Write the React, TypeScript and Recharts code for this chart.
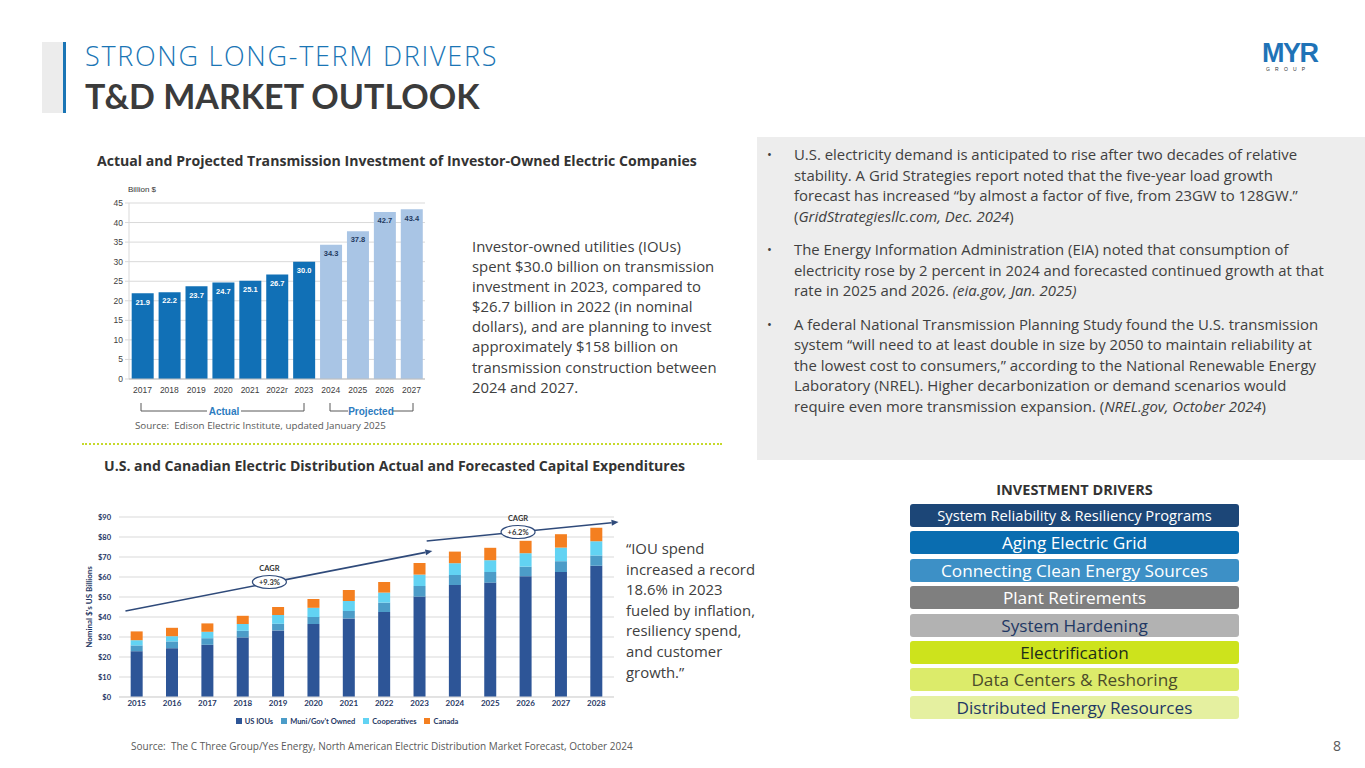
import React from 'react';
import {
  BarChart, Bar, XAxis, YAxis, CartesianGrid, LabelList, Legend,
  ReferenceLine, ReferenceDot,
} from 'recharts';

// ---------- Transmission investment (top chart) ----------
const tYears = ['2017', '2018', '2019', '2020', '2021', '2022r', '2023', '2024', '2025', '2026', '2027'];
const tActual = [21.9, 22.2, 23.7, 24.7, 25.1, 26.7, 30.0, null, null, null, null];
const tProjected = [null, null, null, null, null, null, null, 34.3, 37.8, 42.7, 43.4];
const tTicks = [0, 5, 10, 15, 20, 25, 30, 35, 40, 45];

// ---------- Distribution capex (bottom chart) ----------
const dYears = ['2015', '2016', '2017', '2018', '2019', '2020', '2021', '2022', '2023', '2024', '2025', '2026', '2027', '2028'];
const dUsIOUs = [22.9, 24.4, 26.1, 29.8, 33.3, 36.5, 39.3, 42.5, 50.2, 56.0, 57.2, 60.4, 62.5, 65.6];
const dMuni = [2.9, 3.4, 3.3, 3.3, 3.3, 3.5, 3.7, 4.7, 5.3, 5.0, 5.3, 4.8, 5.4, 5.1];
const dCoops = [2.6, 2.6, 3.2, 3.4, 4.4, 4.6, 5.0, 5.0, 5.7, 5.9, 5.9, 6.7, 6.8, 7.2];
const dCanada = [4.4, 4.2, 4.2, 4.1, 4.0, 4.4, 5.5, 5.3, 5.8, 5.8, 6.2, 6.2, 6.7, 6.7];
const dTicks = [0, 10, 20, 30, 40, 50, 60, 70, 80, 90];
const dSeriesNames = ['US IOUs', "Muni/Gov't Owned", 'Cooperatives', 'Canada'];
const dSeriesColors = ['#2d5597', '#4c9cc8', '#62d3f3', '#f47f20'];
const cagrLabels = ['+9.3%', '+6.2%'];
const cagrArrowSegments = [
  [{ x: 0.17, y: 43 }, { x: 8.23, y: 73 }],
  [{ x: 8.08, y: 78 }, { x: 13.12, y: 87.5 }],
];
const cagrBadgeAt = [{ x: 3.95, y: 57.5 }, { x: 10.48, y: 82.5 }];

const drivers = [
  'System Reliability & Resiliency Programs',
  'Aging Electric Grid',
  'Connecting Clean Energy Sources',
  'Plant Retirements',
  'System Hardening',
  'Electrification',
  'Data Centers & Reshoring',
  'Distributed Energy Resources',
];
const driverStyles = [
  { bg: '#1c4677', fg: '#ffffff', fs: 14.7 },
  { bg: '#0a6db0', fg: '#ffffff', fs: 17.2 },
  { bg: '#3d90c6', fg: '#ffffff', fs: 17.2 },
  { bg: '#7f7f7f', fg: '#ffffff', fs: 17.2 },
  { bg: '#b2b2b2', fg: '#1f3864', fs: 17.2 },
  { bg: '#cde31c', fg: '#1e2f1a', fs: 17.2 },
  { bg: '#dceb6a', fg: '#4b4b2a', fs: 17.2 },
  { bg: '#e5f0a0', fg: '#1f3864', fs: 17.2 },
];

const tData = tYears.map((y, i) => ({ year: y, actual: tActual[i], projected: tProjected[i] }));
const dData = dYears.map((y, i) => ({
  year: y, ious: dUsIOUs[i], muni: dMuni[i], coops: dCoops[i], canada: dCanada[i],
}));

const FONT = '"Open Sans", Lato, sans-serif';
const LATO = 'Lato, "Open Sans", sans-serif';
const ARIAL = '"Liberation Sans", Arial, sans-serif';
const NAVY = '#1f3864';
const BODY = 14.9;

const fmt1 = (v: any) => (v === null || v === undefined ? '' : Number(v).toFixed(1));

const ArrowShape = (props: any) => {
  const { x1, y1, x2, y2 } = props;
  const ang = Math.atan2(y2 - y1, x2 - x1);
  const L = 7, W = 3;
  const bx = x2 - L * Math.cos(ang), by = y2 - L * Math.sin(ang);
  const px = -Math.sin(ang) * W, py = Math.cos(ang) * W;
  return (
    <g>
      <line x1={x1} y1={y1} x2={bx} y2={by} stroke="#2f4a7a" strokeWidth={1.6} />
      <polygon points={`${x2},${y2} ${bx + px},${by + py} ${bx - px},${by - py}`} fill="#2f4a7a" />
    </g>
  );
};

const makeBadge = (label: string) => (props: any) => {
  const { cx, cy } = props;
  return (
    <g>
      <text x={cx} y={cy - 11} textAnchor="middle" fontSize={7.5} fontFamily={LATO} fill="#333" fontWeight={700}>CAGR</text>
      <ellipse cx={cx} cy={cy} rx={17} ry={6.5} fill="#fff" stroke="#2f4a7a" strokeWidth={1.2} />
      <text x={cx} y={cy + 2.6} textAnchor="middle" fontSize={7.5} fontFamily={LATO} fill="#333" fontWeight={700}>{label}</text>
    </g>
  );
};

const DistLegend = () => (
  <div style={{ height: 10, lineHeight: '10px', textAlign: 'center', paddingLeft: 8, whiteSpace: 'nowrap', fontFamily: LATO, fontSize: 7.5, fontWeight: 700, color: NAVY }}>
    {dSeriesNames.map((n, i) => (
      <span key={n} style={{ marginRight: 8 }}>
        <span style={{ display: 'inline-block', width: 6, height: 6, background: dSeriesColors[i], marginRight: 3, verticalAlign: 'middle', position: 'relative', top: -1 }} />
        {n}
      </span>
    ))}
  </div>
);

const abs = (left: number, top: number, extra: React.CSSProperties = {}): React.CSSProperties => ({
  position: 'absolute', left, top, ...extra,
});

const Bullet = ({ first, children }: { first?: boolean; children: React.ReactNode }) => (
  <div style={{ position: 'relative', paddingLeft: 27, marginTop: first ? 0 : 13 }}>
    <span style={{ position: 'absolute', left: 0, fontSize: 13 }}>•</span>
    {children}
  </div>
);

export default function App() {
  return (
    <div style={{ position: 'absolute', left: 0, top: 0, width: 1365, height: 768, background: '#fff', overflow: 'hidden', fontFamily: FONT, color: '#333' }}>
      {/* Header */}
      <div style={abs(42, 42, { width: 21, height: 71, background: '#ececec' })} />
      <div style={abs(63, 42, { width: 3, height: 71, background: '#1a75b5' })} />
      <div style={abs(85, 39, { fontSize: 27, fontWeight: 300, color: '#1a75b5', whiteSpace: 'nowrap', lineHeight: '34px', letterSpacing: 1.7 })}>STRONG LONG-TERM DRIVERS</div>
      <div style={abs(85, 76, { fontSize: 34, fontWeight: 700, color: '#3b3b3b', whiteSpace: 'nowrap', lineHeight: '40px', fontFamily: LATO })}>T&amp;D MARKET OUTLOOK</div>

      {/* Logo */}
      <div style={abs(1262, 38, { fontSize: 27, fontWeight: 900, color: '#1f73b7', fontFamily: ARIAL, letterSpacing: -1.5, lineHeight: '30px' })}>MYR</div>
      <div style={abs(1266, 66, { fontSize: 5, color: '#333', letterSpacing: 5.2, fontFamily: ARIAL, lineHeight: '6px' })}>GROUP</div>

      {/* Top chart title */}
      <div style={abs(97, 151, { fontSize: 14.1, fontWeight: 700, color: '#333', whiteSpace: 'nowrap', lineHeight: '19px' })}>
        Actual and Projected Transmission Investment of Investor-Owned Electric Companies
      </div>
      <div style={abs(128, 185, { fontSize: 8, fontFamily: ARIAL, color: '#333' })}>Billion $</div>

      <div style={abs(95, 180)}>
        <BarChart width={340} height={240} data={tData} margin={{ top: 23, right: 10, left: 4, bottom: 21 }} barCategoryGap="10%">
          <CartesianGrid vertical={false} stroke="#d9d9d9" />
          <YAxis width={30} domain={[0, 45]} ticks={tTicks} interval={0}
            tick={{ fontSize: 8.5, fill: '#404040', fontFamily: ARIAL }}
            tickLine={{ stroke: '#d9d9d9' }} tickSize={4} axisLine={{ stroke: '#d9d9d9' }} />
          <XAxis dataKey="year" interval={0} height={20} tickLine={false}
            axisLine={{ stroke: '#bfbfbf' }} tick={{ fontSize: 8.5, fill: '#404040', fontFamily: ARIAL }} />
          <Bar dataKey="actual" stackId="t" fill="#1170b6" isAnimationActive={false}>
            <LabelList dataKey="actual" position="insideTop" offset={6} formatter={fmt1}
              style={{ fontSize: 7.5, fontWeight: 700, fill: '#ffffff', fontFamily: ARIAL }} />
          </Bar>
          <Bar dataKey="projected" stackId="t" fill="#a9c5e5" isAnimationActive={false}>
            <LabelList dataKey="projected" position="insideTop" offset={6} formatter={fmt1}
              style={{ fontSize: 7.5, fontWeight: 700, fill: '#1f3a5f', fontFamily: ARIAL }} />
          </Bar>
        </BarChart>
      </div>

      {/* Actual / Projected brackets */}
      <svg style={abs(120, 398)} width={320} height={22}>
        <polyline points="21,5 21,13 87,13" fill="none" stroke="#595959" strokeWidth={1} />
        <polyline points="121,13 184,13 184,5" fill="none" stroke="#595959" strokeWidth={1} />
        <text x={104} y={17} textAnchor="middle" fontSize={10} fontWeight={700} fill="#2d7cc0" fontFamily={ARIAL}>Actual</text>
        <polyline points="210,5 210,13 228,13" fill="none" stroke="#595959" strokeWidth={1} />
        <polyline points="273,13 293,13 293,5" fill="none" stroke="#595959" strokeWidth={1} />
        <text x={251} y={17} textAnchor="middle" fontSize={10} fontWeight={700} fill="#2d7cc0" fontFamily={ARIAL}>Projected</text>
      </svg>

      <div style={abs(135, 419, { fontSize: 9.8, color: '#595959', whiteSpace: 'nowrap' })}>Source:&nbsp; Edison Electric Institute, updated January 2025</div>

      {/* Top paragraph */}
      <div style={abs(472, 236, { fontSize: BODY, lineHeight: '20.1px', color: '#404040', whiteSpace: 'nowrap' })}>
        <div>Investor-owned utilities (IOUs)</div>
        <div>spent $30.0 billion on transmission</div>
        <div>investment in 2023, compared to</div>
        <div>$26.7 billion in 2022 (in nominal</div>
        <div>dollars), and are planning to invest</div>
        <div>approximately $158 billion on</div>
        <div>transmission construction between</div>
        <div>2024 and 2027.</div>
      </div>

      {/* dotted separator */}
      <div style={abs(82, 443, { width: 640, height: 0, borderTop: '2px dotted #c6d92c' })} />

      {/* Right grey panel */}
      <div style={abs(757, 137, { width: 608, height: 323, background: '#ededed' })} />
      <div style={abs(767, 144, { fontSize: BODY, lineHeight: '20.5px', color: '#404040', whiteSpace: 'nowrap' })}>
        <Bullet first>
          <div>U.S. electricity demand is anticipated to rise after two decades of relative</div>
          <div>stability. A Grid Strategies report noted that the five-year load growth</div>
          <div>forecast has increased “by almost a factor of five, from 23GW to 128GW.”</div>
          <div>(<i>GridStrategiesllc.com, Dec. 2024</i>)</div>
        </Bullet>
        <Bullet>
          <div>The Energy Information Administration (EIA) noted that consumption of</div>
          <div>electricity rose by 2 percent in 2024 and forecasted continued growth at that</div>
          <div>rate in 2025 and 2026. <i>(eia.gov, Jan. 2025)</i></div>
        </Bullet>
        <Bullet>
          <div>A federal National Transmission Planning Study found the U.S. transmission</div>
          <div>system “will need to at least double in size by 2050 to maintain reliability at</div>
          <div>the lowest cost to consumers,” according to the National Renewable Energy</div>
          <div>Laboratory (NREL). Higher decarbonization or demand scenarios would</div>
          <div>require even more transmission expansion. (<i>NREL.gov, October 2024</i>)</div>
        </Bullet>
      </div>

      {/* Bottom chart title */}
      <div style={abs(104, 456, { fontSize: 14.1, fontWeight: 700, color: '#333', whiteSpace: 'nowrap', lineHeight: '19px' })}>
        U.S. and Canadian Electric Distribution Actual and Forecasted Capital Expenditures
      </div>

      <div style={abs(80, 505)}>
        <BarChart width={548} height={232} data={dData} margin={{ top: 12, right: 14, left: 0, bottom: 10 }} barCategoryGap="33%">
          <CartesianGrid vertical={false} stroke="#d9d9d9" />
          <YAxis width={39} domain={[0, 90]} ticks={dTicks} interval={0} tickLine={false} axisLine={false}
            tickFormatter={(v: number) => `$${v}`}
            tick={{ fontSize: 7.5, fill: NAVY, fontWeight: 700, fontFamily: LATO }}
            label={{ value: "Nominal $'s US Billions", angle: -90, position: 'insideLeft', offset: 9, style: { fontSize: 8, fontWeight: 700, fill: NAVY, fontFamily: LATO, textAnchor: 'middle' } }} />
          <XAxis dataKey="year" interval={0} height={20} tickLine={false} tickSize={0} tickMargin={3} axisLine={{ stroke: '#d9d9d9' }}
            tick={{ fontSize: 8, fill: NAVY, fontWeight: 700, fontFamily: LATO }} />
          <XAxis xAxisId="n" type="number" domain={[-0.5, 13.5]} hide allowDataOverflow />
          <Legend verticalAlign="bottom" content={() => <DistLegend />} wrapperStyle={{ lineHeight: '10px' }} />
          <Bar dataKey="ious" name={dSeriesNames[0]} stackId="d" fill={dSeriesColors[0]} isAnimationActive={false} />
          <Bar dataKey="muni" name={dSeriesNames[1]} stackId="d" fill={dSeriesColors[1]} isAnimationActive={false} />
          <Bar dataKey="coops" name={dSeriesNames[2]} stackId="d" fill={dSeriesColors[2]} isAnimationActive={false} />
          <Bar dataKey="canada" name={dSeriesNames[3]} stackId="d" fill={dSeriesColors[3]} isAnimationActive={false} />
          {cagrArrowSegments.map((seg, i) => (
            <ReferenceLine key={`a${i}`} xAxisId="n" segment={seg} ifOverflow="visible" shape={ArrowShape} />
          ))}
          {cagrBadgeAt.map((p, i) => (
            <ReferenceDot key={`b${i}`} xAxisId="n" x={p.x} y={p.y} ifOverflow="visible" shape={makeBadge(cagrLabels[i])} />
          ))}
        </BarChart>
      </div>

      {/* Quote */}
      <div style={abs(626, 538, { fontSize: BODY, lineHeight: '20.6px', color: '#404040', whiteSpace: 'nowrap' })}>
        <div>“IOU spend</div>
        <div>increased a record</div>
        <div>18.6% in 2023</div>
        <div>fueled by inflation,</div>
        <div>resiliency spend,</div>
        <div>and customer</div>
        <div>growth.”</div>
      </div>

      {/* Investment drivers */}
      <div style={abs(910, 480, { width: 329, textAlign: 'center', fontSize: 14.5, fontWeight: 700, color: '#333', lineHeight: '19px' })}>INVESTMENT DRIVERS</div>
      {drivers.map((d, i) => (
        <div key={d} style={abs(910, 504 + i * 27.4, {
          width: 329, height: 23, borderRadius: 3, background: driverStyles[i].bg, color: driverStyles[i].fg,
          fontSize: driverStyles[i].fs, lineHeight: '23px', textAlign: 'center', whiteSpace: 'nowrap',
        })}>{d}</div>
      ))}

      {/* Footer */}
      <div style={abs(131, 739, { fontSize: 10, color: '#595959', whiteSpace: 'nowrap' })}>
        Source:&nbsp; The C Three Group/Yes Energy, North American Electric Distribution Market Forecast, October 2024
      </div>
      <div style={abs(1333, 736, { fontSize: 14, color: '#595959' })}>8</div>
    </div>
  );
}
